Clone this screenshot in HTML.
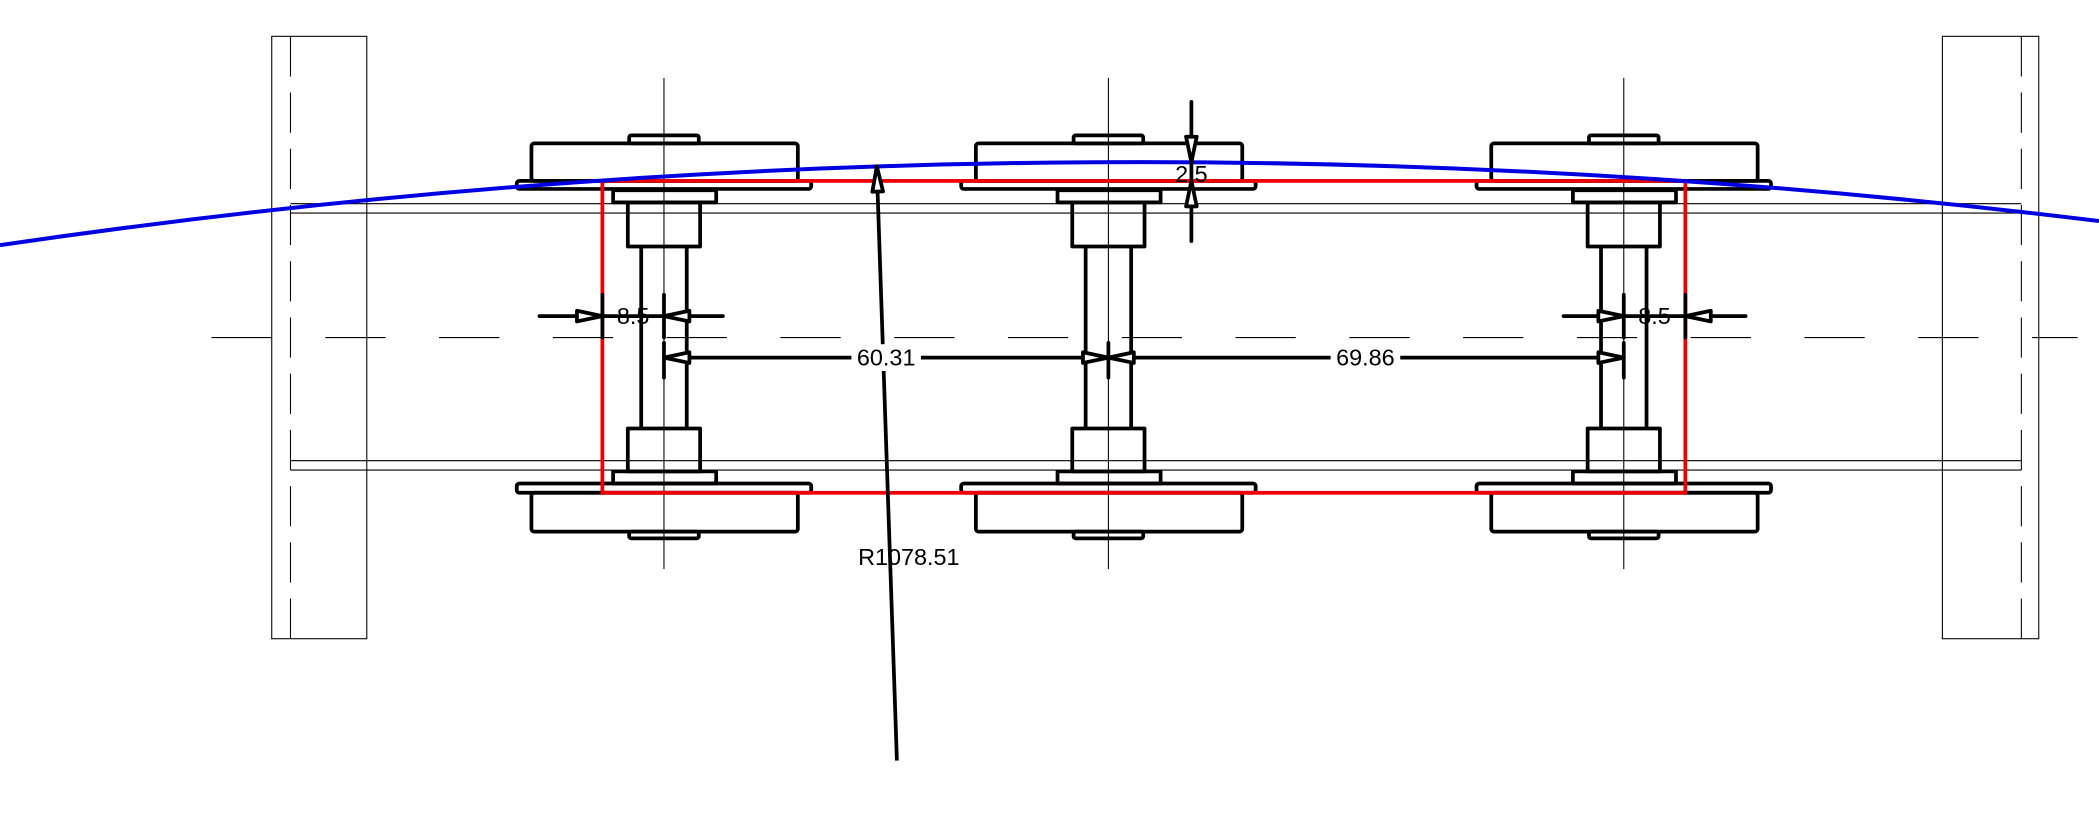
<!DOCTYPE html>
<html><head><style>html,body{margin:0;padding:0;background:#fff}svg{display:block}</style></head><body>
<svg width="2099" height="829" viewBox="0 0 1568 619" xmlns="http://www.w3.org/2000/svg" font-family="Liberation Sans, sans-serif">
<defs>
<g id="ws" fill="none" stroke="#000">
<line x1="0" y1="58" x2="0" y2="425" stroke-width="0.8"/>
<g stroke-width="2.8" stroke-linejoin="round">
<rect x="-26" y="101" width="52" height="6" rx="1.5"/>
<rect x="-99" y="107" width="199" height="28" rx="2"/>
<rect x="-110" y="135" width="220" height="6" rx="2"/>
<rect x="-38" y="142" width="77" height="9"/>
<rect x="-27" y="151" width="54" height="33"/>
<line x1="-17" y1="184" x2="-17" y2="320"/>
<line x1="17" y1="184" x2="17" y2="320"/>
<rect x="-27" y="320" width="54" height="32"/>
<rect x="-38" y="352" width="77" height="9"/>
<rect x="-110" y="361" width="220" height="7" rx="2"/>
<rect x="-99" y="368" width="199" height="29" rx="2"/>
<rect x="-26" y="397" width="52" height="5" rx="1.5"/>
</g></g>
<g id="ar"><path d="M0 0 L-19 -4 L-19 4 Z" fill="#fff" stroke="#000" stroke-width="2.8" stroke-linejoin="round"/></g>
</defs>
<rect width="1568" height="619" fill="#fff"/>
<g fill="none" stroke="#000" stroke-width="0.8">
<rect x="203" y="27" width="71" height="450"/>
<rect x="1451" y="27" width="72" height="450"/>
<line x1="217" y1="27" x2="217" y2="477" stroke-dasharray="30 12"/>
<line x1="1510" y1="27" x2="1510" y2="477" stroke-dasharray="30 12"/>
<line x1="217" y1="152" x2="1510" y2="152"/>
<line x1="217" y1="159" x2="1510" y2="159"/>
<line x1="217" y1="344" x2="1510" y2="344"/>
<line x1="217" y1="351" x2="1510" y2="351"/>
<line x1="158" y1="252" x2="1552" y2="252" stroke-dasharray="45 40"/>
</g>
<use href="#ws" x="496"/>
<use href="#ws" x="828"/>
<use href="#ws" x="1213"/>
<rect x="450" y="135" width="809" height="233" fill="none" stroke="#e00" stroke-width="2.8"/>
<path d="M0 183 A5863 5863 0 0 1 1568 165" fill="none" stroke="#0000e0" stroke-width="3"/>
<line x1="670" y1="568" x2="655" y2="126" stroke="#000" stroke-width="2.8"/>
<use href="#ar" transform="translate(655,124) rotate(-92)"/>
<text x="641" y="422" font-size="17.5">R1078.51</text>
<g stroke="#000" stroke-width="2.8" stroke-linecap="round">
<line x1="403" y1="236" x2="540" y2="236"/>
<line x1="496" y1="220" x2="496" y2="252"/>
<line x1="450" y1="220" x2="450" y2="252"/>
<line x1="496" y1="267" x2="828" y2="267"/>
<line x1="496" y1="256" x2="496" y2="282"/>
<line x1="828" y1="256" x2="828" y2="282"/>
<line x1="828" y1="267" x2="1213" y2="267"/>
<line x1="1213" y1="256" x2="1213" y2="282"/>
<line x1="1168" y1="236" x2="1304" y2="236"/>
<line x1="1213" y1="220" x2="1213" y2="252"/>
<line x1="1259" y1="220" x2="1259" y2="252"/>
<line x1="890" y1="76" x2="890" y2="180"/>
</g>
<use href="#ar" transform="translate(450,236)"/>
<use href="#ar" transform="translate(496,236) rotate(180)"/>
<use href="#ar" transform="translate(496,267) rotate(180)"/>
<use href="#ar" transform="translate(828,267)"/>
<use href="#ar" transform="translate(828,267) rotate(180)"/>
<use href="#ar" transform="translate(1213,267)"/>
<use href="#ar" transform="translate(1213,236)"/>
<use href="#ar" transform="translate(1259,236) rotate(180)"/>
<use href="#ar" transform="translate(890,121) rotate(90)"/>
<use href="#ar" transform="translate(890,135) rotate(-90)"/>
<g font-size="17.5" text-anchor="middle">
<rect x="636" y="257" width="52" height="20" fill="#fff"/>
<text x="662" y="273">60.31</text>
<rect x="994" y="257" width="52" height="20" fill="#fff"/>
<text x="1020" y="273">69.86</text>
<text x="473" y="242">8.5</text>
<text x="1236" y="242">8.5</text>
<text x="890" y="136">2.5</text>
</g>
</svg>
</body></html>
